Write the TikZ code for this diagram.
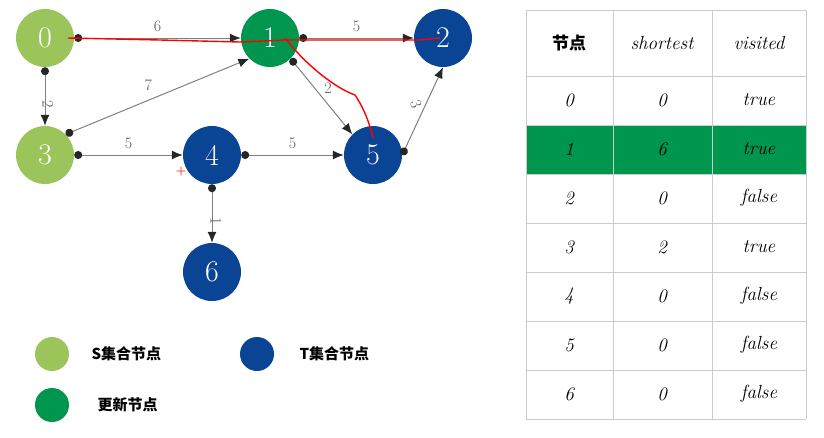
\documentclass[tikz,border=0pt]{standalone}
\usepackage{fontspec}
\newfontfamily\cjk{Noto Sans CJK SC}
\usetikzlibrary{arrows.meta}
\definecolor{sgreen}{HTML}{9BC45A}
\definecolor{ugreen}{HTML}{00964E}
\definecolor{tblue}{HTML}{0A4595}
\tikzset{
  vert/.style={circle,minimum size=58pt,inner sep=0pt,text=white,font=\fontsize{30}{30}\selectfont},
  leg/.style={circle,minimum size=34pt,inner sep=0pt},
  edge/.style={draw=black!50,line width=1pt,{Circle[black!85,length=8pt]}-{Latex[black!85,length=11pt,width=9pt]}},
  wt/.style={font=\fontsize{16}{16}\selectfont,text=black!65},
  cell/.style={font=\fontsize{19}{19}\selectfont\itshape},
  legtext/.style={anchor=west,font=\cjk\bfseries\fontsize{15}{15}\selectfont},
  redline/.style={draw=red,line width=1.4pt}
}
\begin{document}
\begin{tikzpicture}[x=1pt,y=-1pt]
\useasboundingbox (0,0) rectangle (824,437);
% graph
\node[vert,fill=sgreen] (n0) at (45,38) {0};
\node[vert,fill=ugreen] (n1) at (270,38) {1};
\node[vert,fill=tblue] (n2) at (443,38) {2};
\node[vert,fill=sgreen] (n3) at (45,155) {3};
\node[vert,fill=tblue] (n4) at (212,155) {4};
\node[vert,fill=tblue] (n5) at (373,155) {5};
\node[vert,fill=tblue] (n6) at (212,272) {6};
\draw[edge] (n0.east) -- node[wt,above=2pt] {6} (n1.west);
\draw[edge] (n1.east) -- node[wt,above=2pt] {5} (n2.west);
\draw[edge] (n0.south) -- node[wt,right=3pt,rotate=-90] {2} (n3.north);
\draw[edge] (n3.north east) -- node[wt,above,pos=0.45,yshift=6pt] {7} (n1.south west);
\draw[edge] (n3.east) -- node[wt,above=2pt] {5} (n4.west);
\draw[edge] (n4.east) -- node[wt,above=2pt] {5} (n5.west);
\draw[edge] (n1.south east) -- node[wt,above right=-1pt] {2} (n5.north west);
\draw[edge] (n5.east) -- node[wt,left=4pt,rotate=-70] {3} (n2.south);
\draw[edge] (n4.south) -- node[wt,right=4pt,rotate=-90] {1} (n6.north);
% red marks
\draw[redline] (68,38) -- (160,40) -- (240,42) -- (285,40) -- (420,40) -- (440,38);
\draw[redline] (285,38) .. controls (310,70) and (340,90) .. (355,95) .. controls (365,110) and (370,125) .. (373,138);
\node[text=red,font=\large\bfseries] (plus) at (181,172) {+};
% legend
\node[leg,fill=sgreen] (l1) at (52,354) {};
\node[legtext] (l1t) at (88,354) {S集合节点};
\node[leg,fill=tblue] (l2) at (257,354) {};
\node[legtext] (l2t) at (296,354) {T集合节点};
\node[leg,fill=ugreen] (l3) at (52,405) {};
\node[legtext] (l3t) at (94,405) {更新节点};
% table
\fill[ugreen] (526,125) rectangle (806,174);
\foreach \y in {10,76,125,174,223,272,321,370,419}
  \draw[black!20] (526,\y) -- (806,\y);
\foreach \x in {526,613,712,806}
  \draw[black!20] (\x,10) -- (\x,419);
\node[font=\cjk\bfseries\fontsize{17}{17}\selectfont] (h1) at (569,43) {节点};
\node[cell] (h2) at (662,43) {shortest};
\node[cell] (h3) at (759,43) {visited};
\foreach \r/\s/\v [count=\i from 0] in {0/0/true,1/6/true,2/0/false,3/2/true,4/0/false,5/0/false,6/0/false}
  \node[cell] at (569,100+49*\i) {\r}
   node[cell] at (662,100+49*\i) {\s}
   node[cell] at (759,100+49*\i) {\v};
\end{tikzpicture}
\end{document}
